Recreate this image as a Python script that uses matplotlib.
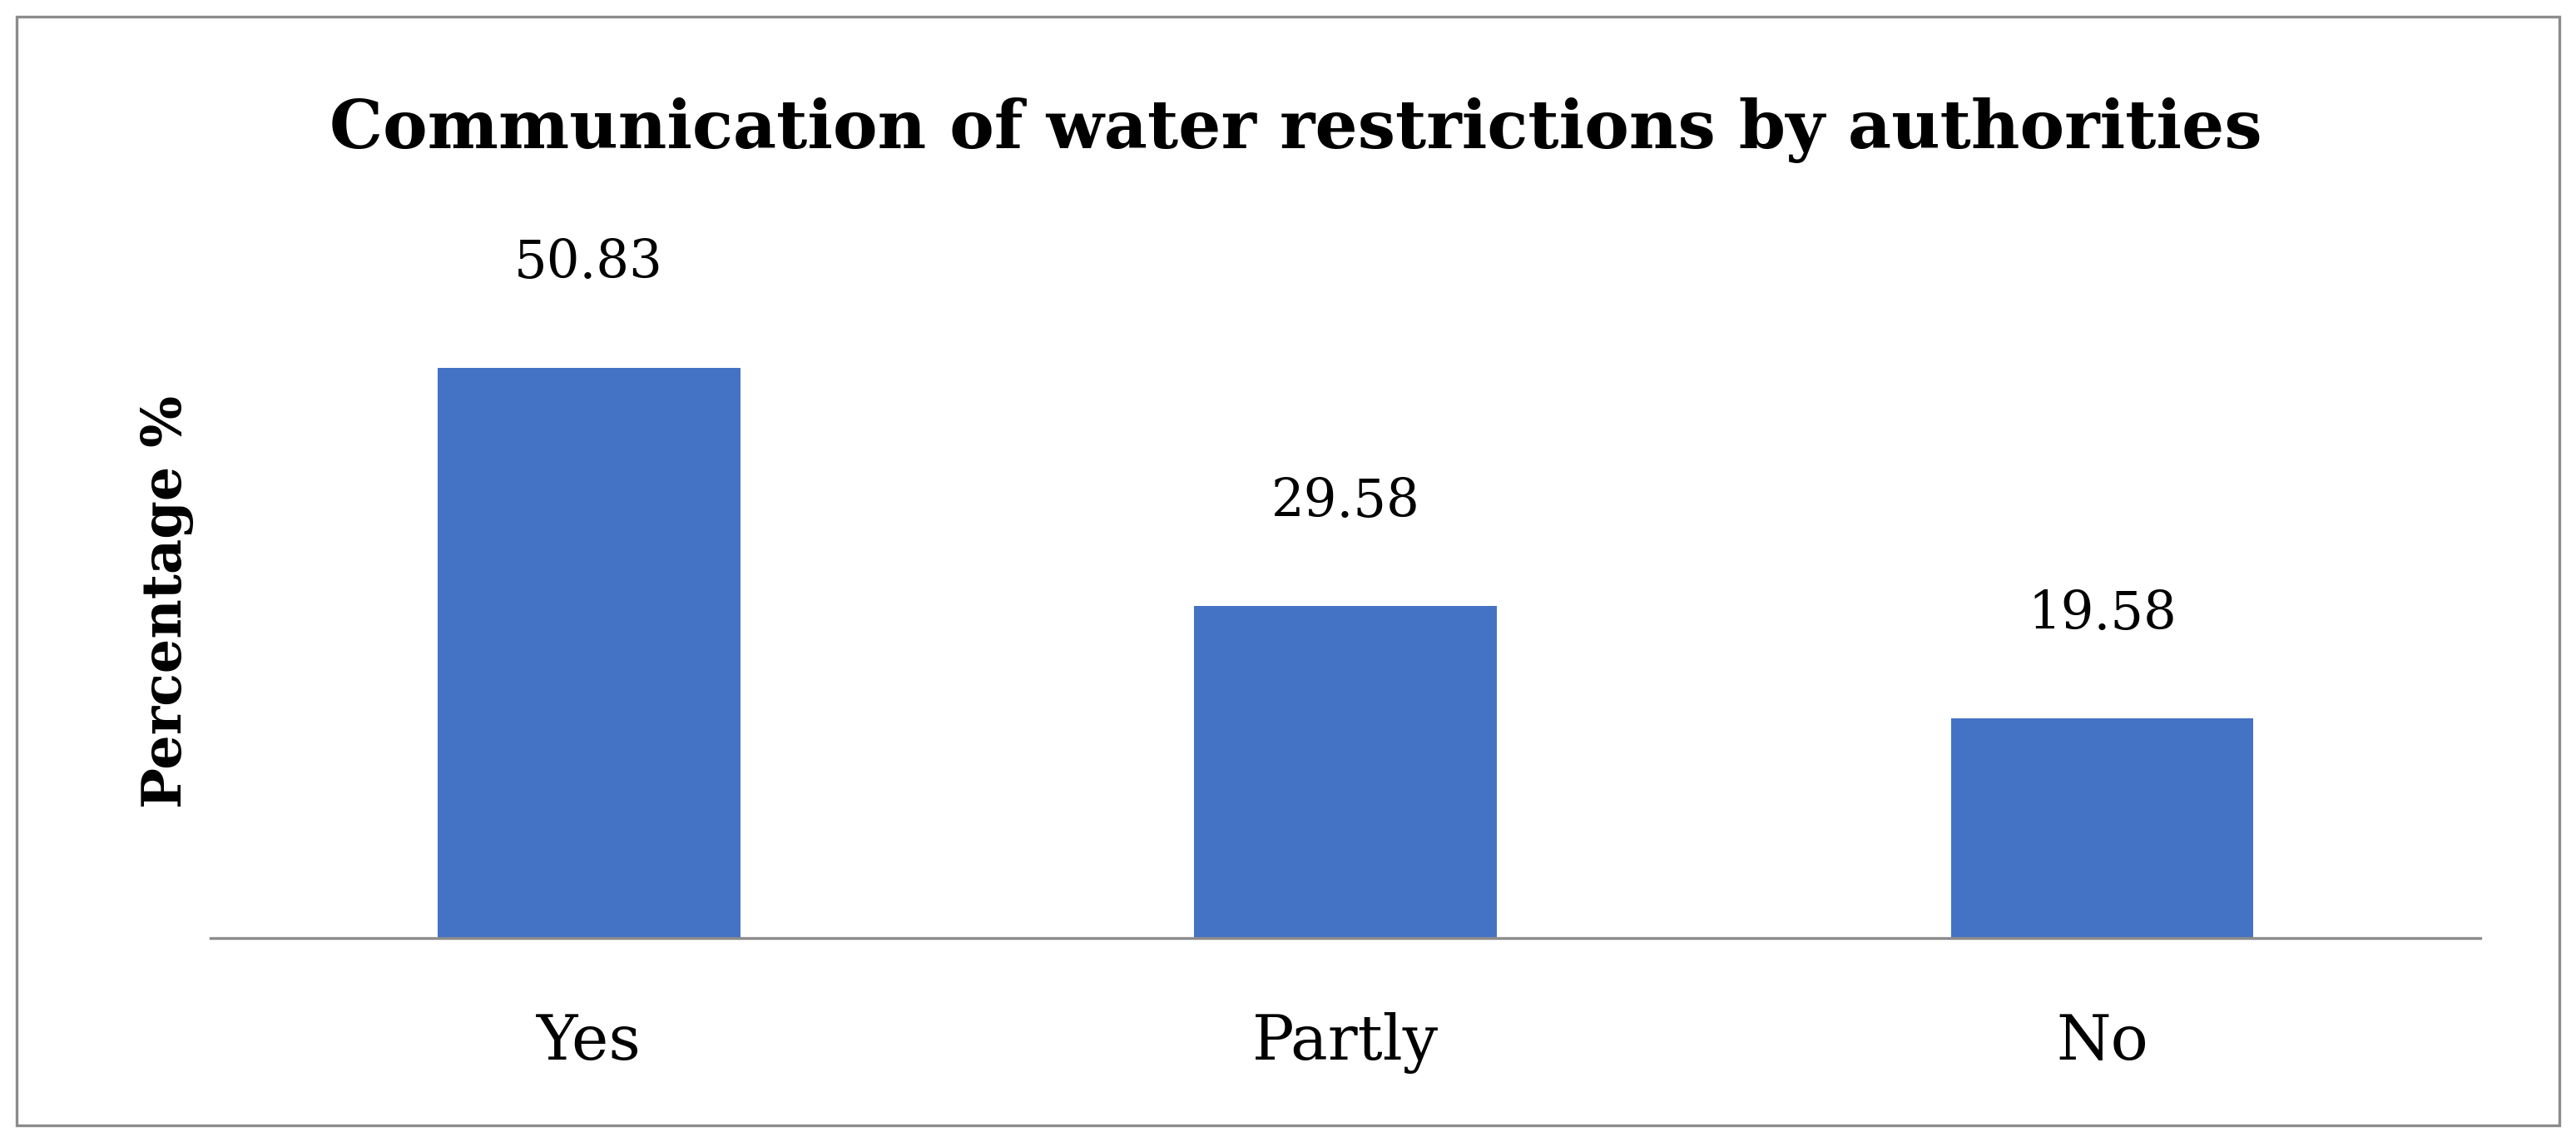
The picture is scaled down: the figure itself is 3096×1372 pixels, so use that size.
import matplotlib
matplotlib.use('Agg')
import matplotlib.pyplot as plt
from matplotlib.patches import Rectangle

categories = ['Yes', 'Partly', 'No']
values = [50.83, 29.58, 19.58]

plt.rcParams['font.family'] = ['DejaVu Serif']

fig = plt.figure(figsize=(30.96, 13.72), dpi=100)
ax = fig.add_axes([0.0817, 0.1786, 0.8812, 0.5896])

ax.bar(range(len(categories)), values, width=0.40, color='#4472C4')
ax.set_xlim(-0.5, 2.5)
ax.set_ylim(0, 60)

for i, v in enumerate(values):
    ax.annotate(f'{v:.2f}', (i, v), xytext=(0, 68), textcoords='offset points',
                ha='center', va='bottom', fontsize=45)

ax.set_xticks(range(len(categories)))
ax.set_xticklabels(categories, fontsize=54)
ax.tick_params(axis='x', length=0, pad=64)
ax.set_yticks([])
for s in ['top', 'right', 'left']:
    ax.spines[s].set_visible(False)
ax.spines['bottom'].set_color('#8c8c8c')
ax.spines['bottom'].set_linewidth(2.4)

ax.set_ylabel('Percentage %', fontsize=47, fontweight='bold', labelpad=14)

fig.text(0.503, 0.886, 'Communication of water restrictions by authorities',
         ha='center', va='center', fontsize=58, fontweight='bold')

fig.patches.append(Rectangle((20 / 3096, 20 / 1372), 3056 / 3096, 1332 / 1372,
                             transform=fig.transFigure, fill=False,
                             edgecolor='#8c8c8c', linewidth=2.4))

fig.savefig('out.png', dpi=100, facecolor='white')
